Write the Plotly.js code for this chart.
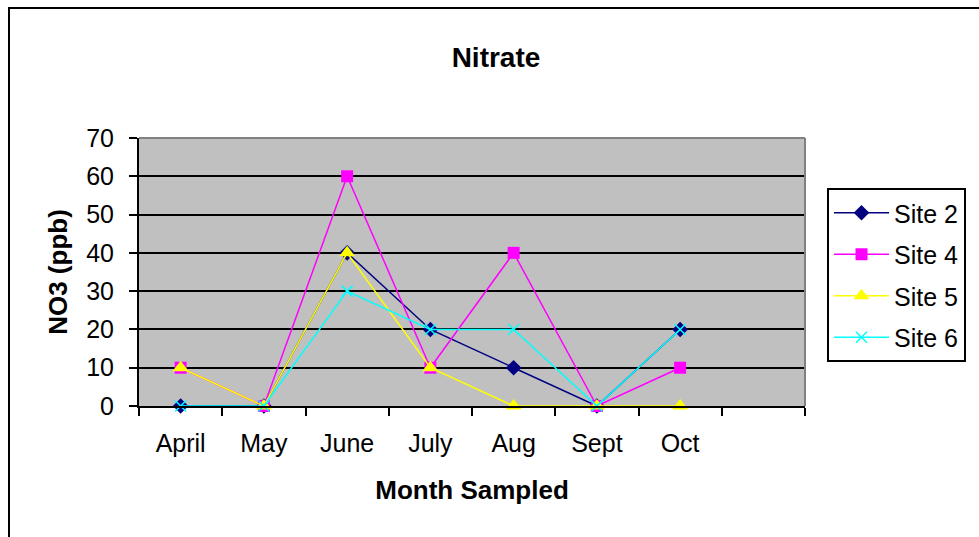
<!DOCTYPE html>
<html>
<head>
<meta charset="utf-8">
<script src="https://cdn.plot.ly/plotly-3.0.1.min.js"></script>
<style>
html,body{margin:0;padding:0;background:#fff;}
#chart{width:979px;height:537px;}
</style>
</head>
<body>
<div id="chart"></div>
<script>
const months = ['April','May','June','July','Aug','Sept','Oct'];
const site2 = [0, 0, 40, 20, 10, 0, 20];
const site4 = [10, 0, 60, 10, 40, 0, 10];
const site5 = [10, 0, 40, 10, 0, 0, 0];
const site6 = [0, 0, 30, 20, 20, 0, 20];
const seriesNames = ['Site 2','Site 4','Site 5','Site 6'];
const yTicks = [0,10,20,30,40,50,60,70];

const FONT = 'Liberation Sans, Arial, sans-serif';
const W = 979, H = 537;
const L = 139, R = 805, T = 138, B = 406;
const px = v => (v - L) / (R - L);
const py = v => (B - v) / (B - T);

function tr(name, y, color, symbol, size, group){
  const isX = symbol.startsWith('x');
  return {
    type:'scatter', mode:'lines+markers', name, x: months, y,
    legendgroup: group, cliponaxis:false,
    line:{color, width:1.5},
    marker: isX ? {symbol, size, color, line:{color, width:1.5}}
                : {symbol, size, color, line:{width:0}}
  };
}

const data = [
  tr(seriesNames[0], site2, '#000080', 'diamond', 12, 'g1'),
  tr(seriesNames[1], site4, '#FF00FF', 'square', 12, 'g2'),
  tr(seriesNames[2], site5, '#FFFF00', 'triangle-up', 14, 'g3'),
  tr(seriesNames[3], site6, '#00FFFF', 'x-thin-open', 11, 'g4')
];

const layout = {
  width: W, height: H,
  margin:{l:L, r:W-R, t:T, b:H-B, pad:0},
  paper_bgcolor:'#FFFFFF',
  plot_bgcolor:'#C0C0C0',
  font:{family:FONT, color:'#000', size:25},
  title:{text:'Nitrate', font:{family:FONT, size:28, weight:'bold', color:'#000'},
         x: 496/W, xanchor:'center', y: 1 - 57/H, yanchor:'middle', xref:'container', yref:'container'},
  xaxis:{
    type:'category', categoryorder:'array', categoryarray:[...months, ' '],
    range:[-0.5, 7.5], tickson:'boundaries',
    showgrid:false, zeroline:false,
    showline:true, linecolor:'#000', linewidth:2,
    ticks:'outside', ticklen:8, tickwidth:2, tickcolor:'#000',
    ticklabelstandoff:14,
    tickfont:{family:FONT, size:25, color:'#000'},
    title:{text:'Month Sampled', font:{family:FONT, size:26, weight:'bold', color:'#000'}, standoff:25},
    automargin:false, fixedrange:true
  },
  yaxis:{
    range:[0,70], tickvals: yTicks, ticktext: yTicks.map(String),
    showgrid:true, gridcolor:'#000', gridwidth:2,
    zeroline:false,
    showline:true, linecolor:'#000', linewidth:2,
    ticks:'outside', ticklen:8, tickwidth:2, tickcolor:'#000',
    ticklabelstandoff:10,
    tickfont:{family:FONT, size:25, color:'#000'},
    title:{text:'NO3 (ppb)', font:{family:FONT, size:26, weight:'bold', color:'#000'}, standoff:11},
    automargin:false, fixedrange:true
  },
  legend:{
    x: px(827), y: py(188), xanchor:'left', yanchor:'top',
    bgcolor:'#FFFFFF', bordercolor:'#000', borderwidth:2,
    font:{family:FONT, size:25, color:'#000'},
    traceorder:'grouped', tracegroupgap:6, itemwidth:55,
    itemclick:false, itemdoubleclick:false
  },
  showlegend:true,
  shapes:[
    {type:'line', xref:'paper', yref:'paper', x0:0, x1:1, y0:1, y1:1, line:{color:'#808080', width:2}, layer:'above'},
    {type:'line', xref:'paper', yref:'paper', x0:1, x1:1, y0:0, y1:1, line:{color:'#808080', width:2}, layer:'above'},
    {type:'rect', xref:'paper', yref:'paper', x0:px(9), x1:px(995), y0:py(560), y1:py(8), line:{color:'#000', width:2}, fillcolor:'rgba(0,0,0,0)', layer:'below'}
  ]
};

Plotly.newPlot('chart', data, layout, {displayModeBar:false, staticPlot:true});
</script>
</body>
</html>
